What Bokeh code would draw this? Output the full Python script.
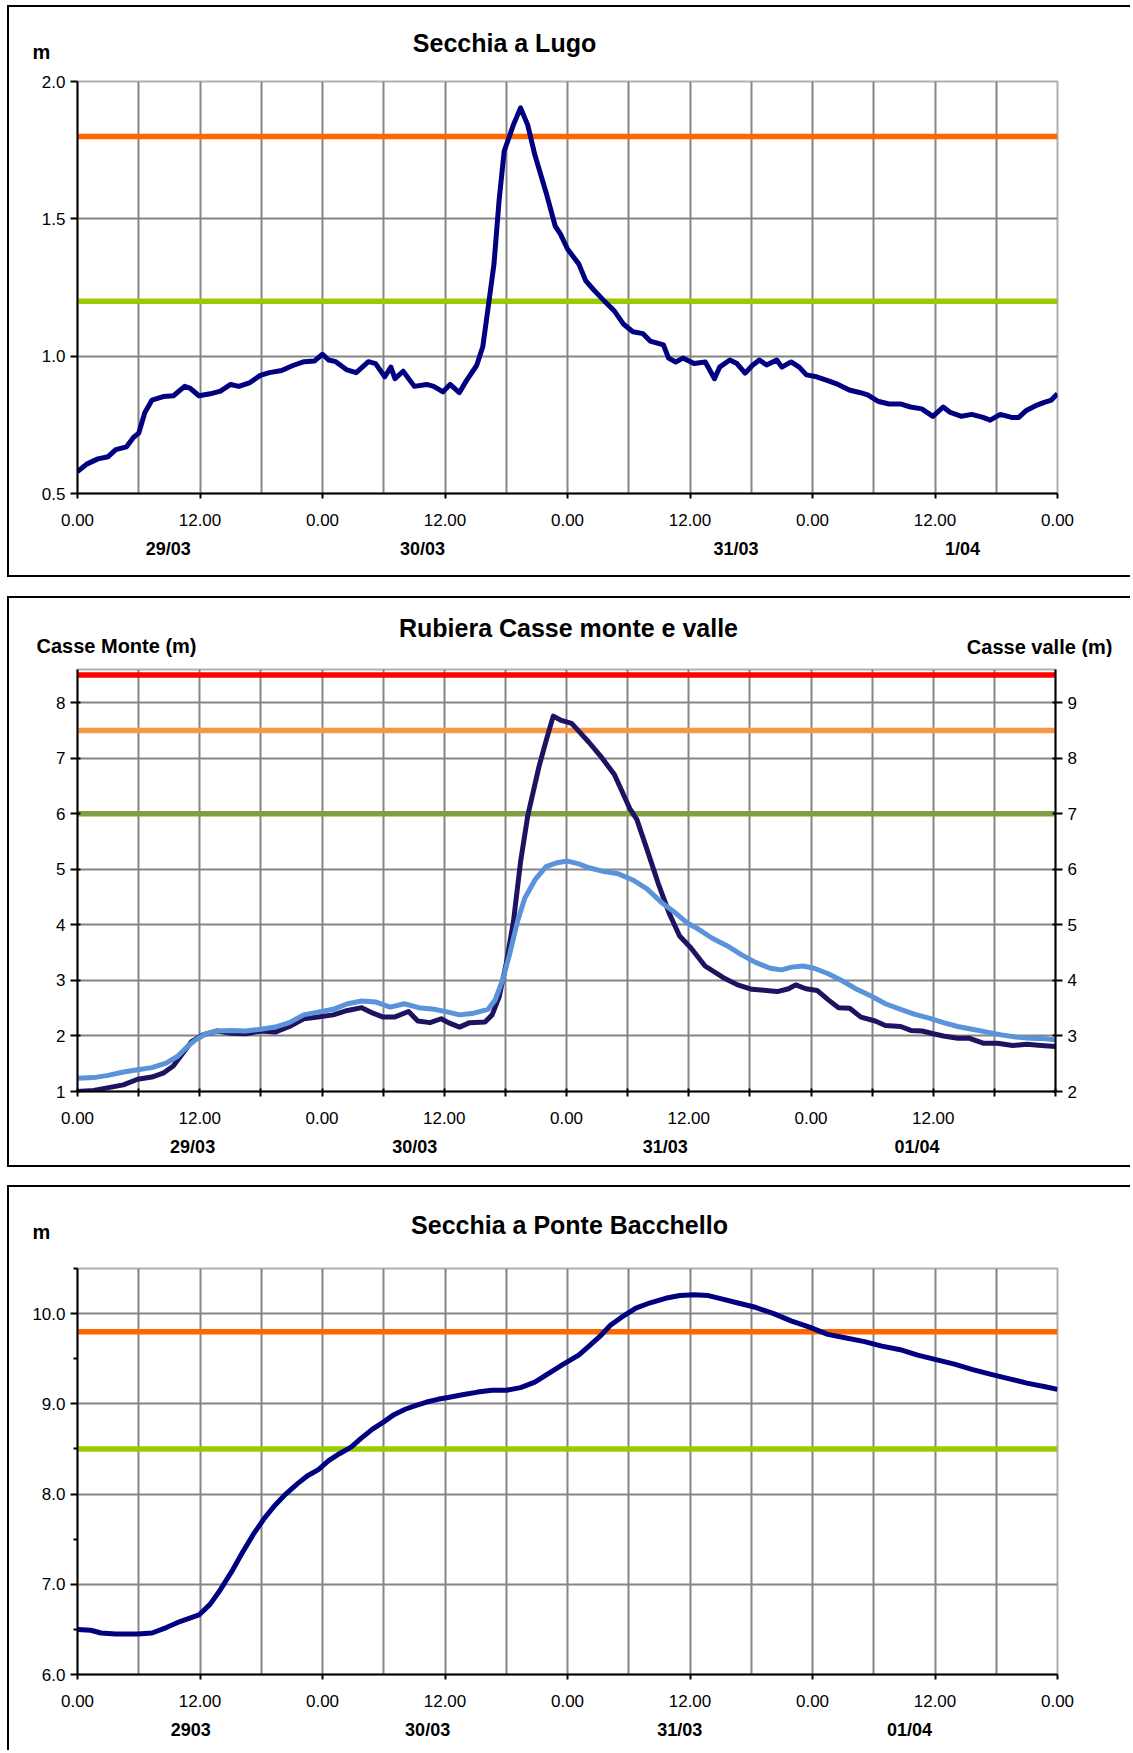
from bokeh.plotting import figure
from bokeh.layouts import column
from bokeh.models import (LinearAxis, Range1d, FixedTicker, Span, Label,
                          NumeralTickFormatter)
from bokeh.embed import file_html
from bokeh.resources import INLINE

# ---------------- data (hours from 29/03 00:00) ----------------
lugo_h = [0, 0.9, 2, 3, 3.75, 4.8, 5.5, 6, 6.6, 7.3, 8.4, 9.4, 10.5, 11, 11.9, 13, 14, 15, 15.8,
          16.9, 17.9, 18.8, 20, 21.1, 22.2, 23.2, 24, 24.6, 25.3, 26.4, 27.3, 28.5, 29.2, 30.1,
          30.7, 31.1, 31.9, 33, 34.2, 34.9, 35.8, 36.5, 37.4, 38.1, 39.1, 39.7, 40.2, 40.8, 41.3,
          41.8, 42.7, 43.4, 44.1, 44.8, 45.9, 46.8, 47.3, 48, 49.1, 49.8, 50.6, 51.5, 52.6, 53.5,
          54.4, 55.4, 56.1, 57.4, 57.9, 58.6, 59.3, 60.4, 61.5, 62.4, 62.9, 63.9, 64.6, 65.4, 66.1,
          66.8, 67.5, 68.5, 69, 69.9, 70.7, 71.4, 72.4, 73.5, 74.5, 75.6, 76.7, 77.4, 78.4, 79.5,
          80.6, 81.6, 82.7, 83.8, 84.8, 85.5, 86.6, 87.6, 88.7, 89.4, 90.4, 91.5, 92.2, 92.9, 94,
          94.7, 95.4, 96]
lugo_m = [0.58, 0.607, 0.626, 0.634, 0.66, 0.67, 0.705, 0.72, 0.795, 0.84, 0.853, 0.856, 0.89,
          0.884, 0.856, 0.863, 0.873, 0.897, 0.89, 0.904, 0.93, 0.94, 0.948, 0.966, 0.98, 0.982,
          1.007, 0.986, 0.98, 0.95, 0.94, 0.98, 0.973, 0.925, 0.96, 0.918, 0.945, 0.89, 0.897,
          0.89, 0.87, 0.897, 0.867, 0.911, 0.966, 1.034, 1.17, 1.336, 1.568, 1.747, 1.842, 1.904,
          1.842, 1.733, 1.596, 1.473, 1.445, 1.39, 1.336, 1.274, 1.24, 1.205, 1.164, 1.116, 1.089,
          1.082, 1.055, 1.041, 0.993, 0.979, 0.993, 0.973, 0.979, 0.918, 0.96, 0.986, 0.973,
          0.938, 0.966, 0.986, 0.968, 0.986, 0.96, 0.979, 0.96, 0.932, 0.925, 0.911, 0.897, 0.877,
          0.867, 0.859, 0.836, 0.826, 0.826, 0.815, 0.808, 0.781, 0.815, 0.795, 0.781, 0.788,
          0.777, 0.767, 0.788, 0.777, 0.777, 0.801, 0.822, 0.832, 0.84, 0.863]
lugo_thresholds = [1.8, 1.2]

monte_h = [0, 1.6, 3.05, 4.5, 5.9, 7.3, 8.4, 9.4, 10.5, 11.2, 12.3, 13.7, 15.1, 16.5, 18, 19.4,
           20.8, 22.2, 23.6, 25.1, 26.5, 27.9, 29, 30, 31.1, 32.5, 33.4, 34.6, 35.7, 36.4, 37.5,
           38.5, 40, 40.7, 41.4, 42.1, 42.8, 43.5, 44.2, 45.3, 46, 46.7, 47.4, 48.5, 49.2, 50.2,
           51.3, 52.7, 54.2, 54.9, 55.9, 57, 58.1, 59.1, 60.2, 61.6, 63.4, 64.8, 66.2, 67.6, 68.7,
           69.8, 70.5, 71.5, 72.6, 73.7, 74.7, 75.8, 76.9, 78.3, 79.3, 80.8, 81.8, 82.9, 84, 85,
           86.4, 87.5, 88.9, 90.3, 91.8, 93.2, 94.6, 96]
monte_m = [1.0, 1.02, 1.07, 1.12, 1.22, 1.26, 1.33, 1.46, 1.73, 1.9, 2.02, 2.09, 2.05, 2.04,
           2.09, 2.07, 2.17, 2.31, 2.34, 2.38, 2.46, 2.51, 2.41, 2.34, 2.34, 2.44, 2.27, 2.24,
           2.31, 2.24, 2.16, 2.24, 2.25, 2.38, 2.71, 3.32, 4.07, 5.15, 5.97, 6.85, 7.32, 7.76,
           7.69, 7.63, 7.49, 7.29, 7.05, 6.71, 6.1, 5.9, 5.36, 4.75, 4.2, 3.8, 3.59, 3.26, 3.05,
           2.92, 2.84, 2.82, 2.8, 2.85, 2.92, 2.85, 2.82, 2.65, 2.51, 2.5, 2.34, 2.27, 2.19, 2.17,
           2.1, 2.09, 2.04, 2.0, 1.96, 1.96, 1.87, 1.87, 1.83, 1.85, 1.83, 1.81]

valle_h = [0, 1.6, 3, 4.5, 5.9, 7.3, 8.7, 9.8, 10.9, 11.6, 12.6, 13.7, 15.1, 16.5, 18, 19.4,
           20.8, 22.2, 23.6, 25.1, 26.5, 27.9, 29.3, 30.7, 32.1, 33.5, 35, 36.4, 37.5, 38.9, 40.3,
           41, 41.7, 42.4, 43.2, 43.9, 44.9, 46, 47.1, 48.1, 49.2, 50.2, 51.7, 53.1, 54.5, 55.9,
           57.3, 58.8, 59.8, 60.9, 62.3, 63.7, 65.2, 66.6, 68, 69.1, 70.1, 71.2, 72.3, 73.7, 75.1,
           76.5, 78, 79.3, 80.8, 82.2, 83.6, 85, 86.4, 87.8, 89.3, 90.7, 92.1, 93.5, 95, 96]
valle_m = [2.24, 2.25, 2.29, 2.35, 2.39, 2.43, 2.51, 2.63, 2.83, 2.93, 3.04, 3.09, 3.1, 3.09,
           3.12, 3.16, 3.24, 3.38, 3.43, 3.48, 3.58, 3.63, 3.61, 3.52, 3.58, 3.51, 3.48, 3.43,
           3.38, 3.41, 3.48, 3.65, 3.99, 4.46, 5.07, 5.48, 5.81, 6.05, 6.12, 6.15, 6.1, 6.03,
           5.96, 5.92, 5.81, 5.65, 5.41, 5.2, 5.04, 4.93, 4.76, 4.63, 4.46, 4.32, 4.22, 4.19,
           4.24, 4.26, 4.22, 4.12, 3.99, 3.84, 3.71, 3.58, 3.48, 3.39, 3.32, 3.24, 3.17, 3.12,
           3.07, 3.02, 2.98, 2.96, 2.95, 2.93]
rubiera_thresholds = [8.5, 7.5, 6.0]

bacch_h = [0, 1.3, 2.3, 3.75, 5.9, 7.3, 8.7, 10.1, 11.9, 13, 14, 15.1, 16.1, 17.2, 18.3, 19.3,
           20.4, 21.5, 22.5, 23.6, 24.6, 25.7, 26.8, 27.8, 28.9, 30, 31, 32.1, 33.1, 34.2, 35.3,
           36.3, 37.7, 39.2, 40.6, 42, 43.4, 44.8, 46.2, 47.6, 49.1, 50.1, 51.2, 52.2, 53.3, 54.7,
           56.1, 57.6, 59, 60.4, 61.8, 63.2, 64.6, 66.4, 68.2, 69.9, 71.7, 73.5, 75.3, 77.1, 78.8,
           80.6, 82.3, 84.1, 85.9, 87.7, 89.4, 91.2, 93, 94.8, 96]
bacch_m = [6.5, 6.49, 6.46, 6.45, 6.45, 6.46, 6.52, 6.59, 6.66, 6.78, 6.94, 7.14, 7.34, 7.55,
           7.73, 7.87, 8.0, 8.11, 8.2, 8.27, 8.37, 8.45, 8.52, 8.62, 8.72, 8.8, 8.88, 8.94, 8.98,
           9.02, 9.05, 9.07, 9.1, 9.13, 9.15, 9.15, 9.18, 9.24, 9.34, 9.44, 9.54, 9.64, 9.75, 9.87,
           9.96, 10.06, 10.12, 10.17, 10.2, 10.21, 10.2, 10.16, 10.12, 10.07, 10.0, 9.92, 9.85,
           9.77, 9.73, 9.69, 9.64, 9.6, 9.54, 9.49, 9.44, 9.38, 9.33, 9.28, 9.23, 9.19, 9.16]
bacch_thresholds = [9.8, 8.5]

hour_ticks = [0, 12, 24, 36, 48, 60, 72, 84, 96]
hour_labels = ["0.00", "12.00", "0.00", "12.00", "0.00", "12.00", "0.00", "12.00", "0.00"]

lugo_dates = ["29/03", "30/03", "31/03", "1/04"]
lugo_date_pos = [8.9, 33.8, 64.5, 86.7]
rub_dates = ["29/03", "30/03", "31/03", "01/04"]
rub_date_pos = [11.3, 33.1, 57.7, 82.4]
bac_dates = ["2903", "30/03", "31/03", "01/04"]
bac_date_pos = [11.1, 34.3, 59.0, 81.5]

# ---------------- styling ----------------
W = 1130
FONT = "Liberation Sans"
GRID = "#858585"
NAVY = "#000080"
TICK_FS = "17px"


def header(h, texts):
    f = figure(width=W, height=h, x_range=Range1d(0, W), y_range=Range1d(h, 0),
               x_axis_type=None, y_axis_type=None, min_border=0, toolbar_location=None,
               output_backend="svg", outline_line_color=None, background_fill_color=None,
               border_fill_color=None)
    f.frame_align = False
    f.grid.visible = False
    for text, x, y, size, align in texts:
        f.add_layout(Label(x=x, y=y, text=text, text_font=FONT, text_font_size=size,
                           text_font_style="bold", text_align=align,
                           text_baseline="middle", text_color="black"))
    return f


def base_fig(fw, fh, left, top, bottom, yr):
    p = figure(frame_width=fw, frame_height=fh, min_border_left=left,
               min_border_right=W - left - fw, min_border_top=top, min_border_bottom=bottom,
               x_range=Range1d(0, 96), y_range=Range1d(*yr), toolbar_location=None,
               output_backend="svg", background_fill_color="white", border_fill_color=None)
    p.outline_line_color = "#b0b0b0"
    p.outline_line_width = 2
    p.grid.grid_line_color = GRID
    p.grid.grid_line_width = 2
    for ax in p.axis:
        ax.axis_line_color = "black"
        ax.axis_line_width = 2
        ax.major_tick_line_color = "black"
        ax.major_tick_line_width = 2
        ax.minor_tick_line_color = None
        ax.major_label_text_font = FONT
        ax.major_label_text_font_size = TICK_FS
        ax.major_label_text_color = "black"
    return p


def add_xaxes(p, every6_major, date_pos, dates):
    if every6_major:
        ticks = list(range(0, 97, 6))
        over = {t: "" for t in ticks}
        for t, l in zip(hour_ticks[:-1], hour_labels[:-1]):
            over[t] = l
        p.xaxis.ticker = FixedTicker(ticks=ticks)
        p.xaxis.major_label_overrides = over
        p.xaxis.major_tick_in = 3
    else:
        p.xaxis.ticker = FixedTicker(ticks=hour_ticks, minor_ticks=list(range(6, 96, 12)))
        p.xaxis.major_label_overrides = dict(zip(hour_ticks, hour_labels))
        p.xaxis.major_tick_in = 0
        p.xgrid.minor_grid_line_color = GRID
        p.xgrid.minor_grid_line_width = 2
    p.xaxis.major_tick_out = 5
    p.xaxis.major_label_standoff = 15
    dax = LinearAxis(ticker=FixedTicker(ticks=date_pos),
                     major_label_overrides=dict(zip(date_pos, dates)),
                     axis_line_color=None, major_tick_line_color=None,
                     minor_tick_line_color=None, major_label_standoff=4,
                     major_label_text_font=FONT, major_label_text_font_size="18px",
                     major_label_text_font_style="bold", major_label_text_color="black")
    p.add_layout(dax, "below")


def add_spans(p, values, colors, width=5.5):
    for v, c in zip(values, colors):
        p.add_layout(Span(location=v, dimension="width", line_color=c, line_width=width,
                          level="underlay"))


# ---------------- panel 1: Secchia a Lugo ----------------
h1 = header(63, [("Secchia a Lugo", 504, 42, "25px", "center"),
                 ("m", 32, 51, "20px", "left")])
p1 = base_fig(980, 412, 77, 18, 94, (0.5, 2.0))
p1.yaxis.ticker = FixedTicker(ticks=[0.5, 1.0, 1.5, 2.0])
p1.yaxis.formatter = NumeralTickFormatter(format="0.0")
p1.yaxis.major_tick_out = 7
p1.yaxis.major_tick_in = 0
add_xaxes(p1, False, lugo_date_pos, lugo_dates)
add_spans(p1, lugo_thresholds, ["#FF6600", "#99CC00"])
p1.line(lugo_h, lugo_m, line_color=NAVY, line_width=5, line_join="round")

# ---------------- panel 2: Rubiera ----------------
h2 = header(70, [("Rubiera Casse monte e valle", 568, 40, "25px", "center"),
                 ("Casse Monte (m)", 36, 58, "20px", "left"),
                 ("Casse valle (m)", 1112, 59, "20px", "right")])
p2 = base_fig(978, 422, 77, 12, 86, (1, 8.6))
p2.extra_y_ranges = {"valle": Range1d(2, 9.6)}
p2.yaxis.ticker = FixedTicker(ticks=list(range(1, 9)))
p2.yaxis.major_tick_out = 7
p2.yaxis.major_tick_in = 3
rax = LinearAxis(y_range_name="valle", ticker=FixedTicker(ticks=list(range(2, 10))),
                 axis_line_color="black", axis_line_width=2, major_tick_line_color="black",
                 major_tick_line_width=2, major_tick_out=7, major_tick_in=3,
                 minor_tick_line_color=None, major_label_text_font=FONT,
                 major_label_text_font_size=TICK_FS, major_label_text_color="black")
p2.add_layout(rax, "right")
add_xaxes(p2, True, rub_date_pos, rub_dates)
add_spans(p2, rubiera_thresholds, ["#FF0000", "#F79646", "#7F9F45"])
p2.line(monte_h, monte_m, line_color="#1E1360", line_width=5, line_join="round")
p2.line(valle_h, valle_m, y_range_name="valle", line_color="#5A93DA", line_width=5,
        line_join="round")

# ---------------- panel 3: Ponte Bacchello ----------------
h3 = header(68, [("Secchia a Ponte Bacchello", 569, 47, "25px", "center"),
                 ("m", 32, 54, "20px", "left")])
p3 = base_fig(980, 406, 77, 23, 76, (6.0, 10.5))
p3.yaxis.ticker = FixedTicker(ticks=[6, 7, 8, 9, 10], minor_ticks=[6.5, 7.5, 8.5, 9.5, 10.5])
p3.yaxis.formatter = NumeralTickFormatter(format="0.0")
p3.yaxis.major_tick_out = 7
p3.yaxis.major_tick_in = 0
p3.yaxis.minor_tick_line_color = "black"
p3.yaxis.minor_tick_line_width = 2
p3.yaxis.minor_tick_out = 4
p3.yaxis.minor_tick_in = 0
add_xaxes(p3, False, bac_date_pos, bac_dates)
add_spans(p3, bacch_thresholds, ["#FF6600", "#99CC00"])
p3.line(bacch_h, bacch_m, line_color=NAVY, line_width=5, line_join="round")

# ---------------- panel frames (page boxes) ----------------
layers = []
for top, bottom in [(5, 577), (596, 1167), (1185, 1800)]:
    layers.append(f"linear-gradient(#000, #000) 7px {top}px / 2px {bottom - top}px no-repeat")
    layers.append(f"linear-gradient(#000, #000) 7px {top}px / 1300px 2px no-repeat")
    layers.append(f"linear-gradient(#000, #000) 7px {bottom - 2}px / 1300px 2px no-repeat")

layout = column(h1, p1, h2, p2, h3, p3, spacing=0,
                styles={"background": ", ".join(layers)})
open("out.html", "w").write(file_html(layout, INLINE))
